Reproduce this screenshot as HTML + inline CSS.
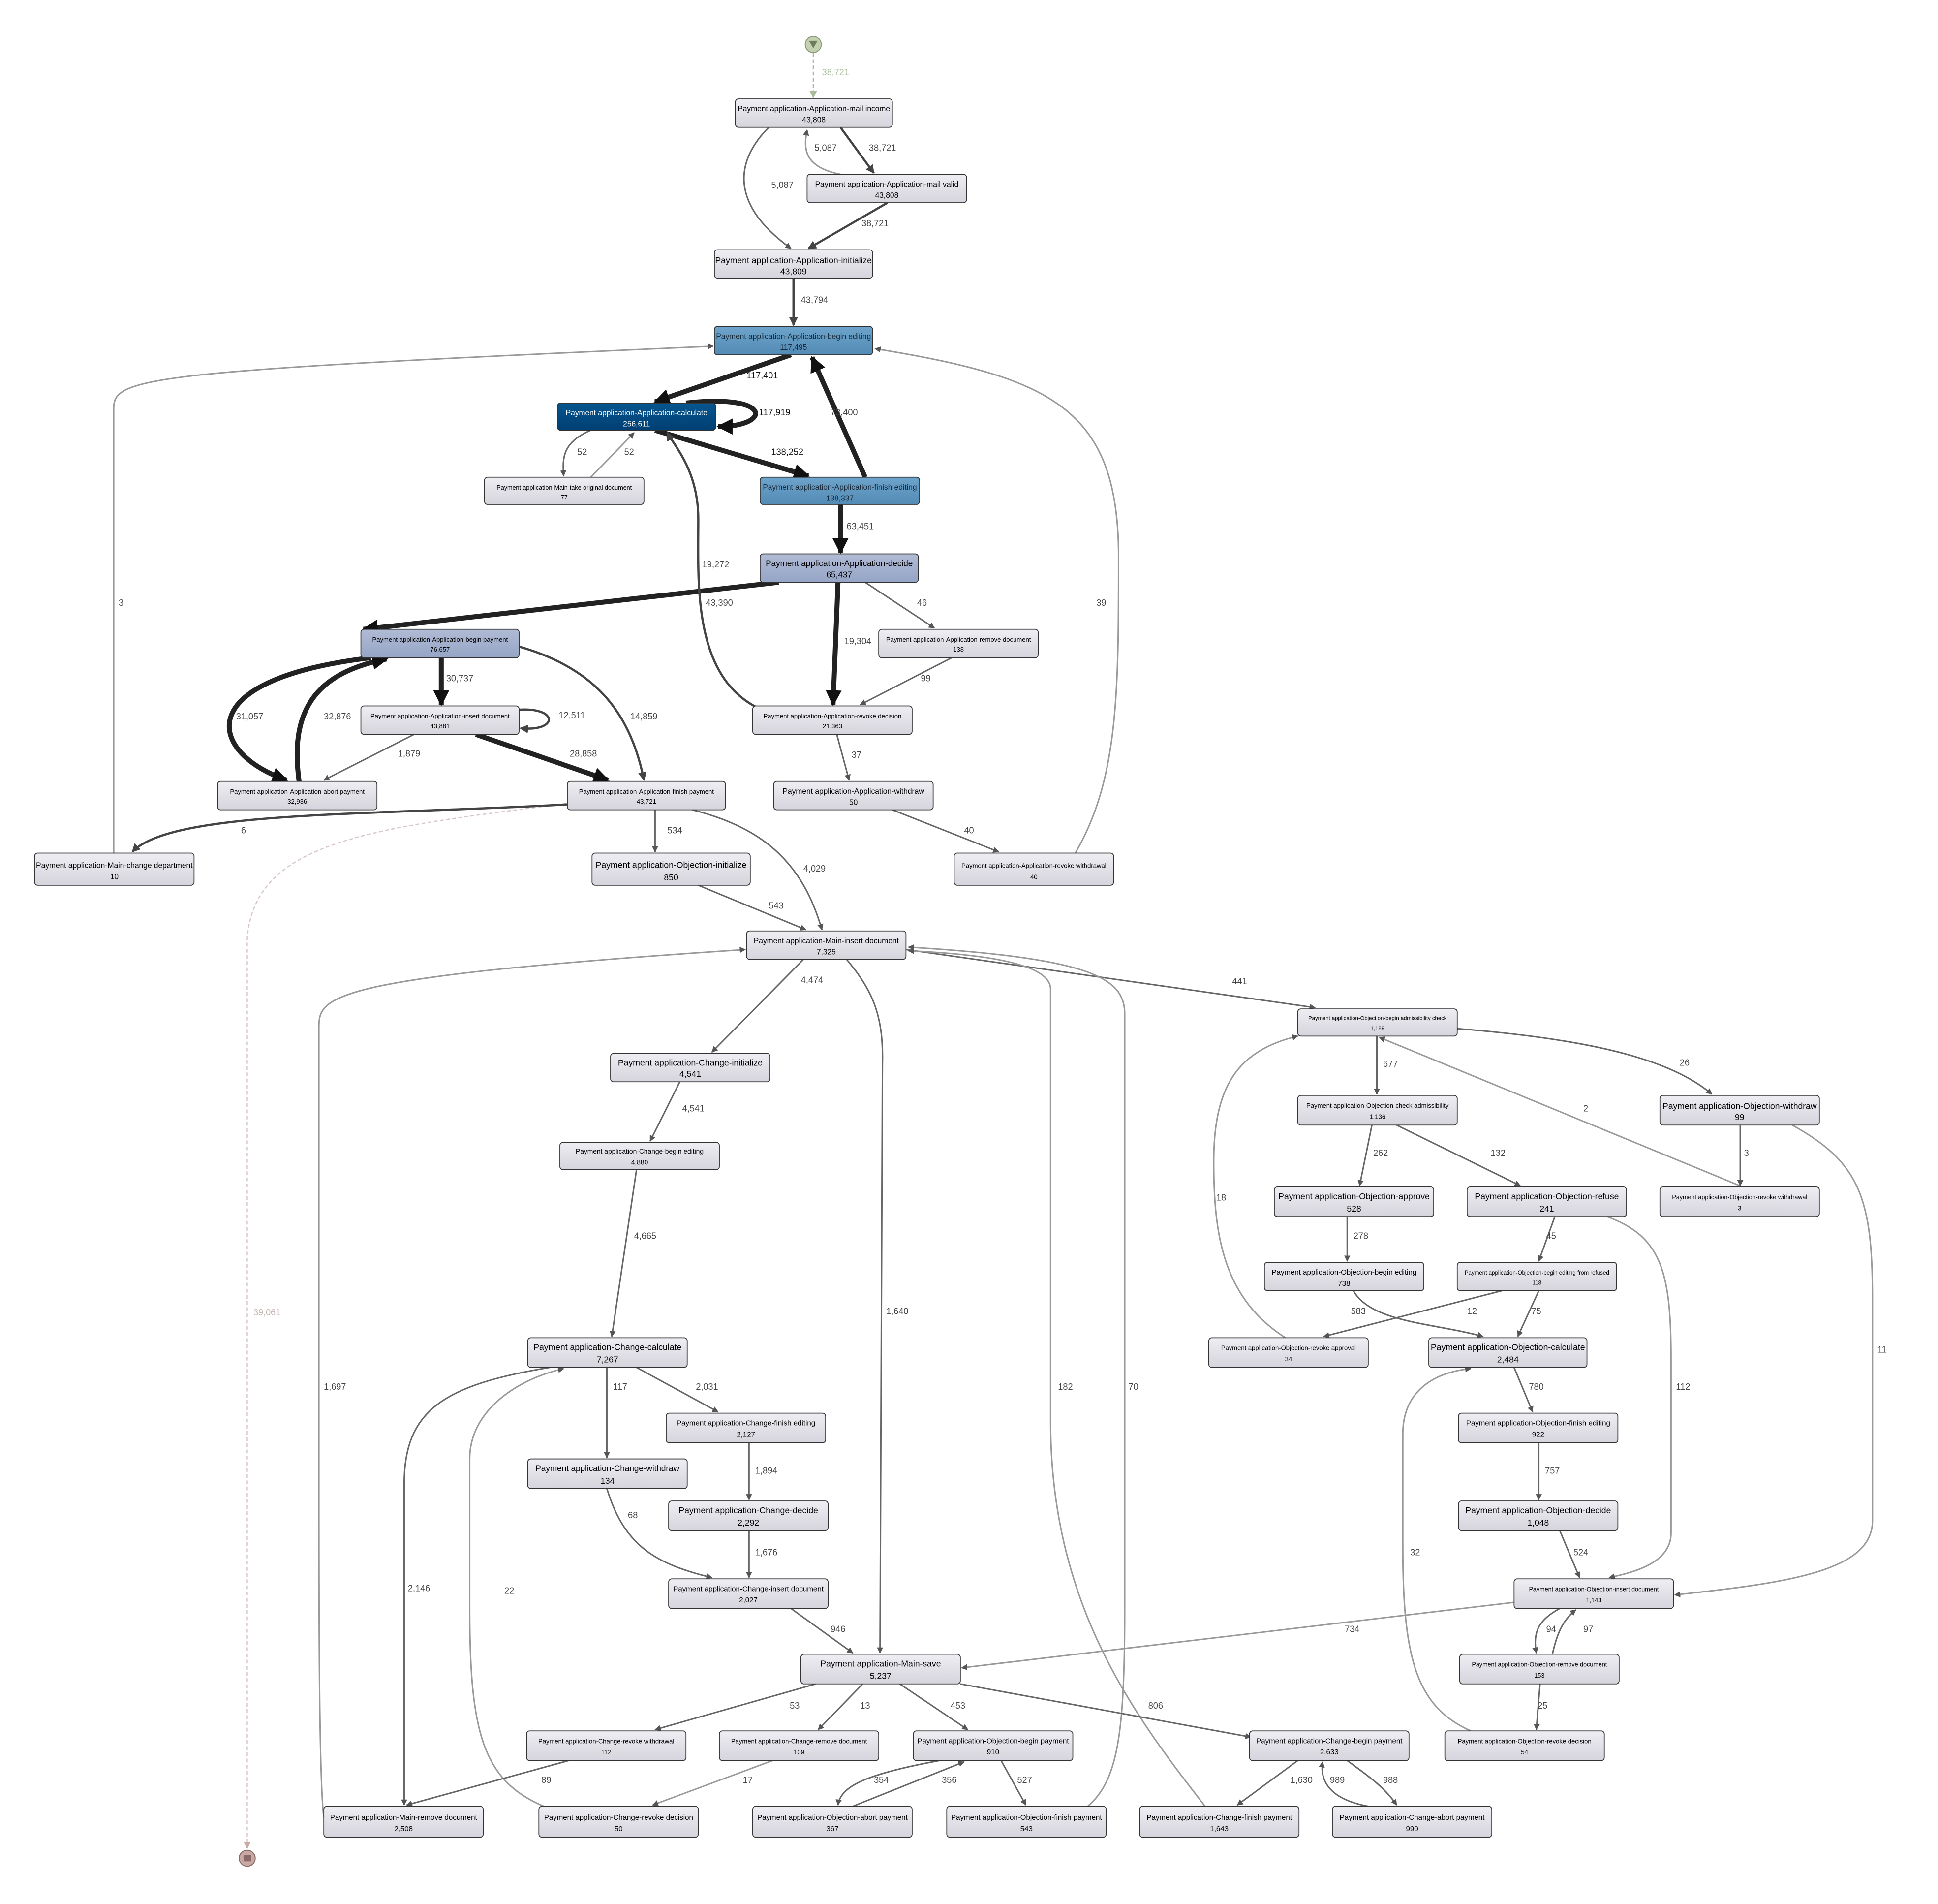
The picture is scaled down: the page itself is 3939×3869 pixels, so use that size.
<!DOCTYPE html>
<html><head><meta charset="utf-8">
<style>
html,body{margin:0;padding:0;background:#fff;}
svg{display:block;}
text{font-family:"Liberation Sans",sans-serif;}
.n rect{stroke:#333;stroke-width:0.7;}
.lbl{font-size:7.2px;fill:#444;}
.e{fill:none;stroke:#666;stroke-width:1.2;marker-end:url(#a);}
.l{stroke:#999;}
.h{stroke:#444;stroke-width:1.8;marker-end:url(#ad);}
.vh{stroke:#222;stroke-width:4;marker-end:url(#ab);}
</style></head>
<body>
<svg width="3939" height="3869" viewBox="0 0 1568 1540" preserveAspectRatio="none" xmlns="http://www.w3.org/2000/svg">
<defs>
<linearGradient id="g" x1="0" y1="0" x2="0" y2="1"><stop offset="0" stop-color="#efeef3"/><stop offset="1" stop-color="#d6d4dc"/></linearGradient>
<linearGradient id="b1" x1="0" y1="0" x2="0" y2="1"><stop offset="0" stop-color="#6ea4cb"/><stop offset="1" stop-color="#528bb5"/></linearGradient>
<linearGradient id="b2" x1="0" y1="0" x2="0" y2="1"><stop offset="0" stop-color="#075690"/><stop offset="1" stop-color="#003f72"/></linearGradient>
<linearGradient id="b3" x1="0" y1="0" x2="0" y2="1"><stop offset="0" stop-color="#b0bbd5"/><stop offset="1" stop-color="#96a5c6"/></linearGradient>
<marker id="a" viewBox="0 0 10 10" refX="9" refY="5" markerWidth="5" markerHeight="5" orient="auto" markerUnits="userSpaceOnUse"><path d="M0,0L10,5L0,10z" fill="#555"/></marker>
<marker id="ad" viewBox="0 0 10 10" refX="9" refY="5" markerWidth="7" markerHeight="7" orient="auto" markerUnits="userSpaceOnUse"><path d="M0,0L10,5L0,10z" fill="#444"/></marker>
<marker id="ab" viewBox="0 0 10 10" refX="9" refY="5" markerWidth="13" markerHeight="13" orient="auto" markerUnits="userSpaceOnUse"><path d="M0,0L10,5L0,10z" fill="#111"/></marker>
<marker id="ag" viewBox="0 0 10 10" refX="9" refY="5" markerWidth="6" markerHeight="6" orient="auto" markerUnits="userSpaceOnUse"><path d="M0,0L10,5L0,10z" fill="#a9bb9a"/></marker>
<marker id="ar" viewBox="0 0 10 10" refX="9" refY="5" markerWidth="6" markerHeight="6" orient="auto" markerUnits="userSpaceOnUse"><path d="M0,0L10,5L0,10z" fill="#c9a9a4"/></marker>
</defs>

<circle cx="658" cy="36" r="6.5" fill="#c3d1b0" stroke="#8a9a7a" stroke-width="0.8"/>
<path d="M654.5,33 L661.5,33 L658,39z" fill="#6c7d5e"/>
<path d="M658,43 L658,79" stroke="#a9bb9a" stroke-width="1" stroke-dasharray="3,2" fill="none" marker-end="url(#ag)"/>
<text x="665" y="61" class="lbl" style="fill:#a9bb9a">38,721</text>
<circle cx="200" cy="1503" r="6.5" fill="#c9a9a4" stroke="#8a6a66" stroke-width="0.8"/>
<rect x="197" y="1500.5" width="6" height="5" fill="#8a6a66"/>
<path d="M458,650 C300,670 205,680 200,760 L200,1495" stroke="#d8c8c6" stroke-width="1" stroke-dasharray="3,2" fill="none" marker-end="url(#ar)"/>
<text x="205" y="1064" class="lbl" style="fill:#c4b4b2">39,061</text>

<path class="e h" d="M680,103 L707,140"/><text x="703" y="122" class="lbl">38,721</text>
<path class="e l" d="M680,141 C650,135 650,120 653,105"/><text x="659" y="122" class="lbl">5,087</text>
<path class="e" d="M622,103 C595,130 590,165 640,201"/><text x="624" y="152" class="lbl">5,087</text>
<path class="e h" d="M718,164 L654,201"/><text x="697" y="183" class="lbl">38,721</text>
<path class="e h" d="M642,225 L642,263"/><text x="648" y="245" class="lbl">43,794</text>
<path class="e vh" d="M640,287 L530,325"/><text x="604" y="306" class="lbl" style="fill:#111">117,401</text>
<path class="e vh" d="M555,326 C625,318 625,345 581,345"/><text x="614" y="336" class="lbl" style="fill:#111">117,919</text>
<path class="e vh" d="M530,348 L654,385"/><text x="624" y="368" class="lbl" style="fill:#111">138,252</text>
<path class="e vh" d="M700,386 L657,289"/><text x="672" y="336" class="lbl">73,400</text>
<path class="e" d="M478,348 C455,358 455,370 456,385"/><text x="467" y="368" class="lbl">52</text>
<path class="e l" d="M478,386 L513,350"/><text x="505" y="368" class="lbl">52</text>
<path class="e vh" d="M680,408 L680,447"/><text x="685" y="428" class="lbl">63,451</text>
<path class="e vh" d="M630,471 L294,509"/><text x="571" y="490" class="lbl">43,390</text>
<path class="e h" d="M612,572 C560,545 565,470 565,420 C565,380 545,360 540,350"/><text x="568" y="459" class="lbl">19,272</text>
<path class="e vh" d="M678,471 L674,570"/><text x="683" y="521" class="lbl">19,304</text>
<path class="e" d="M700,471 L756,508"/><text x="742" y="490" class="lbl">46</text>
<path class="e" d="M770,532 L696,570"/><text x="745" y="551" class="lbl">99</text>
<path class="e vh" d="M357,532 L357,570"/><text x="361" y="551" class="lbl">30,737</text>
<path class="e h" d="M420,574 C452,572 452,592 421,589"/><text x="452" y="581" class="lbl">12,511</text>
<path class="e vh" d="M300,532 C150,550 170,610 232,631"/><text x="191" y="582" class="lbl">31,057</text>
<path class="e vh" d="M242,632 C235,580 250,545 313,533"/><text x="262" y="582" class="lbl">32,876</text>
<path class="e h" d="M420,523 C480,540 510,575 521,631"/><text x="510" y="582" class="lbl">14,859</text>
<path class="e vh" d="M385,594 L492,631"/><text x="461" y="612" class="lbl">28,858</text>
<path class="e" d="M335,594 L262,631"/><text x="322" y="612" class="lbl">1,879</text>
<path class="e" d="M677,594 L687,631"/><text x="689" y="613" class="lbl">37</text>
<path class="e" d="M722,655 L808,689"/><text x="780" y="674" class="lbl">40</text>
<path class="e l" d="M870,690 C905,630 905,560 905,450 C905,330 850,305 708,282"/><text x="887" y="490" class="lbl">39</text>
<path class="e l" d="M92,690 L92,330 C92,305 120,300 577,280"/><text x="96" y="490" class="lbl">3</text>
<path class="e h" d="M470,650 C300,660 140,655 107,689"/><text x="195" y="674" class="lbl">6</text>
<path class="e" d="M530,655 L530,689"/><text x="540" y="674" class="lbl">534</text>
<path class="e" d="M560,655 C620,670 650,700 665,752"/><text x="650" y="705" class="lbl">4,029</text>
<path class="e" d="M565,716 L652,752"/><text x="622" y="735" class="lbl">543</text>
<path class="e" d="M733,768 L1064,815"/><text x="997" y="796" class="lbl">441</text>
<path class="e" d="M650,776 L576,851"/><text x="648" y="795" class="lbl">4,474</text>
<path class="e" d="M685,776 C705,800 715,820 714,860 L712,1337"/><text x="717" y="1063" class="lbl">1,640</text>
<path class="e l" d="M262,1470 C258,1440 258,1300 258,1200 L258,830 C258,805 270,790 603,768"/><text x="262" y="1124" class="lbl">1,697</text>
<path class="e l" d="M975,1461 C920,1390 850,1300 850,1150 L850,800 C850,780 800,772 735,769"/><text x="856" y="1124" class="lbl">182</text>
<path class="e l" d="M880,1461 C905,1440 910,1400 910,1300 L910,820 C910,790 880,775 735,766"/><text x="913" y="1124" class="lbl">70</text>
<path class="e" d="M550,875 L526,923"/><text x="552" y="899" class="lbl">4,541</text>
<path class="e" d="M515,946 L495,1081"/><text x="513" y="1002" class="lbl">4,665</text>
<path class="e" d="M515,1106 L581,1142"/><text x="563" y="1124" class="lbl">2,031</text>
<path class="e" d="M491,1106 L491,1179"/><text x="496" y="1124" class="lbl">117</text>
<path class="e" d="M445,1106 C360,1120 327,1140 327,1200 L327,1460"/><text x="330" y="1287" class="lbl">2,146</text>
<path class="e l" d="M440,1461 C390,1440 380,1400 380,1300 L380,1180 C380,1140 420,1115 456,1107"/><text x="408" y="1289" class="lbl">22</text>
<path class="e" d="M606,1167 L606,1213"/><text x="611" y="1192" class="lbl">1,894</text>
<path class="e" d="M491,1204 C505,1250 530,1265 576,1276"/><text x="508" y="1228" class="lbl">68</text>
<path class="e" d="M606,1238 L606,1276"/><text x="611" y="1258" class="lbl">1,676</text>
<path class="e" d="M640,1301 L690,1337"/><text x="672" y="1320" class="lbl">946</text>
<path class="e l" d="M1225,1296 L778,1349"/><text x="1088" y="1320" class="lbl">734</text>
<path class="e" d="M660,1362 L530,1399"/><text x="639" y="1382" class="lbl">53</text>
<path class="e" d="M698,1362 L662,1399"/><text x="696" y="1382" class="lbl">13</text>
<path class="e" d="M728,1362 L783,1399"/><text x="769" y="1382" class="lbl">453</text>
<path class="e" d="M777,1362 L1012,1405"/><text x="929" y="1382" class="lbl">806</text>
<path class="e" d="M460,1424 L329,1460"/><text x="438" y="1442" class="lbl">89</text>
<path class="e l" d="M625,1424 L528,1460"/><text x="601" y="1442" class="lbl">17</text>
<path class="e" d="M760,1424 C700,1435 680,1445 678,1460"/><text x="707" y="1442" class="lbl">354</text>
<path class="e" d="M690,1461 L780,1425"/><text x="762" y="1442" class="lbl">356</text>
<path class="e" d="M810,1424 L830,1460"/><text x="823" y="1442" class="lbl">527</text>
<path class="e" d="M1050,1424 L1001,1460"/><text x="1044" y="1442" class="lbl">1,630</text>
<path class="e" d="M1107,1461 C1075,1455 1068,1440 1070,1425"/><text x="1076" y="1442" class="lbl">989</text>
<path class="e" d="M1090,1424 C1105,1435 1120,1445 1130,1460"/><text x="1119" y="1442" class="lbl">988</text>
<path class="e" d="M1114,838 L1114,885"/><text x="1119" y="863" class="lbl">677</text>
<path class="e" d="M1179,832 C1280,840 1350,855 1385,885"/><text x="1359" y="862" class="lbl">26</text>
<path class="e l" d="M1410,960 L1116,839"/><text x="1281" y="899" class="lbl">2</text>
<path class="e l" d="M1040,1082 C990,1050 982,1000 982,940 C982,880 1000,850 1050,838"/><text x="984" y="971" class="lbl">18</text>
<path class="e" d="M1110,910 L1100,959"/><text x="1111" y="935" class="lbl">262</text>
<path class="e" d="M1130,910 L1230,959"/><text x="1206" y="935" class="lbl">132</text>
<path class="e" d="M1408,910 L1408,959"/><text x="1411" y="935" class="lbl">3</text>
<path class="e l" d="M1450,910 C1505,940 1515,970 1515,1050 L1515,1230 C1515,1270 1450,1280 1355,1290"/><text x="1519" y="1094" class="lbl">11</text>
<path class="e" d="M1090,984 L1090,1020"/><text x="1095" y="1002" class="lbl">278</text>
<path class="e" d="M1258,984 L1245,1020"/><text x="1251" y="1002" class="lbl">45</text>
<path class="e l" d="M1300,984 C1345,1000 1352,1030 1352,1100 L1352,1240 C1352,1265 1320,1272 1302,1276"/><text x="1356" y="1124" class="lbl">112</text>
<path class="e" d="M1095,1044 C1110,1070 1160,1070 1200,1081"/><text x="1093" y="1063" class="lbl">583</text>
<path class="e" d="M1215,1044 L1071,1081"/><text x="1187" y="1063" class="lbl">12</text>
<path class="e" d="M1245,1044 L1228,1081"/><text x="1239" y="1063" class="lbl">75</text>
<path class="e" d="M1225,1106 L1240,1142"/><text x="1237" y="1124" class="lbl">780</text>
<path class="e" d="M1245,1167 L1245,1213"/><text x="1250" y="1192" class="lbl">757</text>
<path class="e" d="M1262,1238 L1278,1276"/><text x="1273" y="1258" class="lbl">524</text>
<path class="e" d="M1262,1301 C1245,1310 1240,1320 1243,1337"/><text x="1251" y="1320" class="lbl">94</text>
<path class="e" d="M1256,1338 C1260,1320 1265,1310 1275,1302"/><text x="1281" y="1320" class="lbl">97</text>
<path class="e" d="M1246,1362 L1243,1399"/><text x="1244" y="1382" class="lbl">25</text>
<path class="e l" d="M1190,1400 C1145,1380 1135,1340 1135,1250 L1135,1160 C1135,1125 1160,1110 1190,1107"/><text x="1141" y="1258" class="lbl">32</text>

<g class="n" text-anchor="middle">
<rect x="595" y="80" width="127" height="23" rx="2.5" fill="url(#g)"/><text x="658.5" y="90" font-size="6.2">Payment application-Application-mail income</text><text x="658.5" y="99" font-size="6.2">43,808</text>
<rect x="653" y="141" width="129" height="23" rx="2.5" fill="url(#g)"/><text x="717.5" y="151" font-size="6.2">Payment application-Application-mail valid</text><text x="717.5" y="160" font-size="6.2">43,808</text>
<rect x="578" y="202" width="128" height="23" rx="2.5" fill="url(#g)"/><text x="642" y="213" font-size="7">Payment application-Application-initialize</text><text x="642" y="222" font-size="7">43,809</text>
<rect x="578" y="264" width="128" height="23" rx="2.5" fill="url(#b1)"/><text x="642" y="274" font-size="6.2" fill="#1a2a3a">Payment application-Application-begin editing</text><text x="642" y="283" font-size="6.2" fill="#1a2a3a">117,495</text>
<rect x="451" y="326" width="128" height="22" rx="2.5" fill="url(#b2)"/><text x="515" y="336" font-size="6.2" fill="#fff">Payment application-Application-calculate</text><text x="515" y="345" font-size="6.2" fill="#fff">256,611</text>
<rect x="392" y="386" width="129" height="22" rx="2.5" fill="url(#g)"/><text x="456.5" y="396" font-size="5">Payment application-Main-take original document</text><text x="456.5" y="404" font-size="5">77</text>
<rect x="615" y="386" width="129" height="22" rx="2.5" fill="url(#b1)"/><text x="679.5" y="396" font-size="6.2" fill="#1a2a3a">Payment application-Application-finish editing</text><text x="679.5" y="405" font-size="6.2" fill="#1a2a3a">138,337</text>
<rect x="615" y="448" width="128" height="23" rx="2.5" fill="url(#b3)"/><text x="679" y="458" font-size="6.8">Payment application-Application-decide</text><text x="679" y="467" font-size="6.8">65,437</text>
<rect x="292" y="509" width="128" height="23" rx="2.5" fill="url(#b3)"/><text x="356" y="519" font-size="5.2">Payment application-Application-begin payment</text><text x="356" y="527" font-size="5.2">76,657</text>
<rect x="711" y="509" width="129" height="23" rx="2.5" fill="url(#g)"/><text x="775.5" y="519" font-size="5.2">Payment application-Application-remove document</text><text x="775.5" y="527" font-size="5.2">138</text>
<rect x="292" y="571" width="128" height="23" rx="2.5" fill="url(#g)"/><text x="356" y="581" font-size="5.2">Payment application-Application-insert document</text><text x="356" y="589" font-size="5.2">43,881</text>
<rect x="609" y="571" width="129" height="23" rx="2.5" fill="url(#g)"/><text x="673.5" y="581" font-size="5.2">Payment application-Application-revoke decision</text><text x="673.5" y="589" font-size="5.2">21,363</text>
<rect x="176" y="632" width="129" height="23" rx="2.5" fill="url(#g)"/><text x="240.5" y="642" font-size="5.2">Payment application-Application-abort payment</text><text x="240.5" y="650" font-size="5.2">32,936</text>
<rect x="459" y="632" width="128" height="23" rx="2.5" fill="url(#g)"/><text x="523" y="642" font-size="5.2">Payment application-Application-finish payment</text><text x="523" y="650" font-size="5.2">43,721</text>
<rect x="626" y="632" width="129" height="23" rx="2.5" fill="url(#g)"/><text x="690.5" y="642" font-size="6.2">Payment application-Application-withdraw</text><text x="690.5" y="651" font-size="6.2">50</text>
<rect x="28" y="690" width="129" height="26" rx="2.5" fill="url(#g)"/><text x="92.5" y="702" font-size="6.2">Payment application-Main-change department</text><text x="92.5" y="711" font-size="6.2">10</text>
<rect x="479" y="690" width="128" height="26" rx="2.5" fill="url(#g)"/><text x="543" y="702" font-size="7">Payment application-Objection-initialize</text><text x="543" y="712" font-size="7">850</text>
<rect x="772" y="690" width="129" height="26" rx="2.5" fill="url(#g)"/><text x="836.5" y="702" font-size="5.2">Payment application-Application-revoke withdrawal</text><text x="836.5" y="711" font-size="5.2">40</text>
<rect x="604" y="753" width="129" height="23" rx="2.5" fill="url(#g)"/><text x="668.5" y="763" font-size="6.2">Payment application-Main-insert document</text><text x="668.5" y="772" font-size="6.2">7,325</text>
<rect x="1050" y="816" width="129" height="22" rx="2.5" fill="url(#g)"/><text x="1114.5" y="825" font-size="4.5">Payment application-Objection-begin admissibility check</text><text x="1114.5" y="833" font-size="4.5">1,189</text>
<rect x="494" y="852" width="129" height="23" rx="2.5" fill="url(#g)"/><text x="558.5" y="862" font-size="7">Payment application-Change-initialize</text><text x="558.5" y="871" font-size="7">4,541</text>
<rect x="1050" y="886" width="129" height="24" rx="2.5" fill="url(#g)"/><text x="1114.5" y="896" font-size="5.2">Payment application-Objection-check admissibility</text><text x="1114.5" y="905" font-size="5.2">1,136</text>
<rect x="1343" y="886" width="129" height="24" rx="2.5" fill="url(#g)"/><text x="1407.5" y="897" font-size="7">Payment application-Objection-withdraw</text><text x="1407.5" y="906" font-size="7">99</text>
<rect x="453" y="924" width="129" height="22" rx="2.5" fill="url(#g)"/><text x="517.5" y="933" font-size="5.5">Payment application-Change-begin editing</text><text x="517.5" y="942" font-size="5.5">4,880</text>
<rect x="1031" y="960" width="129" height="24" rx="2.5" fill="url(#g)"/><text x="1095.5" y="970" font-size="7">Payment application-Objection-approve</text><text x="1095.5" y="980" font-size="7">528</text>
<rect x="1187" y="960" width="129" height="24" rx="2.5" fill="url(#g)"/><text x="1251.5" y="970" font-size="7">Payment application-Objection-refuse</text><text x="1251.5" y="980" font-size="7">241</text>
<rect x="1343" y="960" width="129" height="24" rx="2.5" fill="url(#g)"/><text x="1407.5" y="970" font-size="5">Payment application-Objection-revoke withdrawal</text><text x="1407.5" y="979" font-size="5">3</text>
<rect x="1023" y="1021" width="129" height="23" rx="2.5" fill="url(#g)"/><text x="1087.5" y="1031" font-size="6">Payment application-Objection-begin editing</text><text x="1087.5" y="1040" font-size="6">738</text>
<rect x="1179" y="1021" width="129" height="23" rx="2.5" fill="url(#g)"/><text x="1243.5" y="1031" font-size="4.6">Payment application-Objection-begin editing from refused</text><text x="1243.5" y="1039" font-size="4.6">118</text>
<rect x="427" y="1082" width="129" height="24" rx="2.5" fill="url(#g)"/><text x="491.5" y="1092" font-size="7">Payment application-Change-calculate</text><text x="491.5" y="1102" font-size="7">7,267</text>
<rect x="978" y="1082" width="129" height="24" rx="2.5" fill="url(#g)"/><text x="1042.5" y="1092" font-size="5.2">Payment application-Objection-revoke approval</text><text x="1042.5" y="1101" font-size="5.2">34</text>
<rect x="1156" y="1082" width="128" height="24" rx="2.5" fill="url(#g)"/><text x="1220" y="1092" font-size="7">Payment application-Objection-calculate</text><text x="1220" y="1102" font-size="7">2,484</text>
<rect x="539" y="1143" width="129" height="24" rx="2.5" fill="url(#g)"/><text x="603.5" y="1153" font-size="6">Payment application-Change-finish editing</text><text x="603.5" y="1162" font-size="6">2,127</text>
<rect x="1180" y="1143" width="129" height="24" rx="2.5" fill="url(#g)"/><text x="1244.5" y="1153" font-size="6">Payment application-Objection-finish editing</text><text x="1244.5" y="1162" font-size="6">922</text>
<rect x="427" y="1180" width="129" height="24" rx="2.5" fill="url(#g)"/><text x="491.5" y="1190" font-size="6.8">Payment application-Change-withdraw</text><text x="491.5" y="1200" font-size="6.8">134</text>
<rect x="541" y="1214" width="129" height="24" rx="2.5" fill="url(#g)"/><text x="605.5" y="1224" font-size="7">Payment application-Change-decide</text><text x="605.5" y="1234" font-size="7">2,292</text>
<rect x="1180" y="1214" width="129" height="24" rx="2.5" fill="url(#g)"/><text x="1244.5" y="1224" font-size="7">Payment application-Objection-decide</text><text x="1244.5" y="1234" font-size="7">1,048</text>
<rect x="541" y="1277" width="129" height="24" rx="2.5" fill="url(#g)"/><text x="605.5" y="1287" font-size="6">Payment application-Change-insert document</text><text x="605.5" y="1296" font-size="6">2,027</text>
<rect x="1225" y="1277" width="129" height="24" rx="2.5" fill="url(#g)"/><text x="1289.5" y="1287" font-size="5">Payment application-Objection-insert document</text><text x="1289.5" y="1296" font-size="5">1,143</text>
<rect x="648" y="1338" width="129" height="24" rx="2.5" fill="url(#g)"/><text x="712.5" y="1348" font-size="7">Payment application-Main-save</text><text x="712.5" y="1358" font-size="7">5,237</text>
<rect x="1181" y="1338" width="129" height="24" rx="2.5" fill="url(#g)"/><text x="1245.5" y="1348" font-size="5">Payment application-Objection-remove document</text><text x="1245.5" y="1357" font-size="5">153</text>
<rect x="426" y="1400" width="129" height="24" rx="2.5" fill="url(#g)"/><text x="490.5" y="1410" font-size="5.2">Payment application-Change-revoke withdrawal</text><text x="490.5" y="1419" font-size="5.2">112</text>
<rect x="582" y="1400" width="129" height="24" rx="2.5" fill="url(#g)"/><text x="646.5" y="1410" font-size="5.2">Payment application-Change-remove document</text><text x="646.5" y="1419" font-size="5.2">109</text>
<rect x="739" y="1400" width="129" height="24" rx="2.5" fill="url(#g)"/><text x="803.5" y="1410" font-size="6">Payment application-Objection-begin payment</text><text x="803.5" y="1419" font-size="6">910</text>
<rect x="1011" y="1400" width="129" height="24" rx="2.5" fill="url(#g)"/><text x="1075.5" y="1410" font-size="6">Payment application-Change-begin payment</text><text x="1075.5" y="1419" font-size="6">2,633</text>
<rect x="1169" y="1400" width="129" height="24" rx="2.5" fill="url(#g)"/><text x="1233.5" y="1410" font-size="5.2">Payment application-Objection-revoke decision</text><text x="1233.5" y="1419" font-size="5.2">54</text>
<rect x="262" y="1461" width="129" height="25" rx="2.5" fill="url(#g)"/><text x="326.5" y="1472" font-size="6">Payment application-Main-remove document</text><text x="326.5" y="1481" font-size="6">2,508</text>
<rect x="436" y="1461" width="129" height="25" rx="2.5" fill="url(#g)"/><text x="500.5" y="1472" font-size="6">Payment application-Change-revoke decision</text><text x="500.5" y="1481" font-size="6">50</text>
<rect x="609" y="1461" width="129" height="25" rx="2.5" fill="url(#g)"/><text x="673.5" y="1472" font-size="6">Payment application-Objection-abort payment</text><text x="673.5" y="1481" font-size="6">367</text>
<rect x="766" y="1461" width="129" height="25" rx="2.5" fill="url(#g)"/><text x="830.5" y="1472" font-size="6">Payment application-Objection-finish payment</text><text x="830.5" y="1481" font-size="6">543</text>
<rect x="922" y="1461" width="129" height="25" rx="2.5" fill="url(#g)"/><text x="986.5" y="1472" font-size="6">Payment application-Change-finish payment</text><text x="986.5" y="1481" font-size="6">1,643</text>
<rect x="1078" y="1461" width="129" height="25" rx="2.5" fill="url(#g)"/><text x="1142.5" y="1472" font-size="6">Payment application-Change-abort payment</text><text x="1142.5" y="1481" font-size="6">990</text>
</g>
</svg>
</body></html>
